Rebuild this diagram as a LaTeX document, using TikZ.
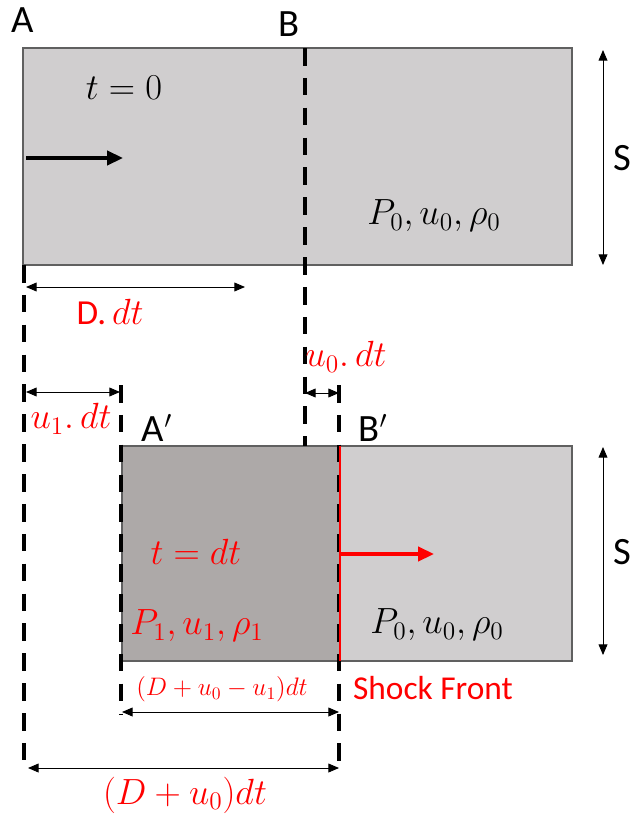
\documentclass[tikz,border=0pt]{standalone}
\usepackage{fontspec}
\setmainfont{Carlito}
\usetikzlibrary{arrows.meta}
\definecolor{lightbox}{HTML}{D0CECF}
\definecolor{darkbox}{HTML}{ADA9A8}
\definecolor{boxline}{HTML}{606060}
\definecolor{shockred}{HTML}{FF0000}
\tikzset{
  slab/.style={draw=boxline, line width=1.2pt},
  cut/.style={line width=2.2pt, dash pattern=on 10pt off 7pt},
  dim/.style={{Triangle[length=6pt,width=5pt]}-{Triangle[length=6pt,width=5pt]}, line width=0.5pt},
  big/.style={font=\fontsize{22}{26}\selectfont},
  state/.style={font=\fontsize{20}{24}\selectfont},
  redlab/.style={text=shockred, font=\fontsize{20}{24}\selectfont},
}
\begin{document}
\begin{tikzpicture}[x=0.02cm, y=-0.02cm]
\useasboundingbox (0,0) rectangle (638,818);
% t = 0 slab
\coordinate (T0a) at (23,48);
\coordinate (T0b) at (572,265);
\fill[lightbox] (T0a) rectangle (T0b);
\draw[slab] (T0a) rectangle (T0b);
% t = dt slabs
\coordinate (Ta) at (122,446);
\coordinate (Tm) at (339,661);
\coordinate (Tb) at (572,661);
\fill[darkbox] (Ta) rectangle (Tm);
\fill[lightbox] (339,446) rectangle (Tb);
\draw[slab] (Ta) rectangle (Tb);
% cuts A, B, A', B'
\coordinate (Atop) at (24,265);
\coordinate (Abot) at (24,770);
\coordinate (Btop) at (305,48);
\coordinate (Bbot) at (305,446);
\coordinate (Aptop) at (121,385);
\coordinate (Apbot) at (121,715);
\coordinate (Bptop) at (339,385);
\coordinate (Bpbot) at (339,770);
\draw[cut] (Atop) -- (Abot);
\draw[cut] (Btop) -- (Bbot);
\draw[cut] (Aptop) -- (Apbot);
\draw[cut] (Bptop) -- (Bpbot);
\node[big] (A) at (23,20) {A};
\node[big] (B) at (289,24) {B};
\node[big] (Ap) at (157,428) {A$'$};
\node[big] (Bp) at (373,428) {B$'$};
% shock front
\coordinate (SFtop) at (340,446);
\coordinate (SFbot) at (340,661);
\coordinate (SFmid) at (340,554);
\coordinate (SFtip) at (434,554);
\draw[shockred, line width=1.6pt] (SFtop) -- (SFbot);
\draw[shockred, line width=2pt, -{Triangle[length=9pt,width=8pt]}] (SFmid) -- (SFtip);
\node[text=shockred, font=\fontsize{19}{22}\selectfont] (sf) at (433,688) {Shock Front};
% piston
\coordinate (Pa) at (26,158);
\coordinate (Pb) at (123,158);
\draw[line width=2pt, -{Triangle[length=9pt,width=8pt]}] (Pa) -- (Pb);
% states
\node[state] (t0) at (124,88) {$t=0$};
\node[state] (s0) at (434,216) {$P_0,u_0,\rho_0$};
\node[redlab] (tdt) at (196,552) {$t=dt$};
\node[redlab] (s1) at (197,626) {$P_1,u_1,\rho_1$};
\node[state] (s0b) at (437,625) {$P_0,u_0,\rho_0$};
% heights
\coordinate (Sa) at (603,50);
\coordinate (Sb) at (603,265);
\coordinate (Sc) at (603,447);
\coordinate (Sd) at (603,655);
\draw[dim] (Sa) -- (Sb);
\draw[dim] (Sc) -- (Sd);
\node[big] (S1) at (622,158) {S};
\node[big] (S2) at (622,552) {S};
% lengths
\coordinate (Da) at (26,287);
\coordinate (Db) at (245,287);
\draw[dim] (Da) -- (Db);
\node[redlab] (Dl) at (110,312) {D.\,$dt$};
\coordinate (u1a) at (26,392);
\coordinate (u1b) at (120,392);
\draw[dim] (u1a) -- (u1b);
\node[redlab] (u1l) at (71,419) {$u_1.\,dt$};
\coordinate (u0a) at (305,393);
\coordinate (u0b) at (339,393);
\draw[dim] (u0a) -- (u0b);
\node[redlab] (u0l) at (346,357) {$u_0.\,dt$};
\coordinate (da) at (122,712);
\coordinate (db) at (339,712);
\draw[dim] (da) -- (db);
\node[text=shockred, font=\fontsize{14}{17}\selectfont] (dl) at (222,689) {$(D+u_0-u_1)dt$};
\coordinate (ea) at (28,768);
\coordinate (eb) at (339,768);
\draw[dim] (ea) -- (eb);
\node[redlab] (el) at (185,795) {$(D+u_0)dt$};
\end{tikzpicture}
\end{document}
